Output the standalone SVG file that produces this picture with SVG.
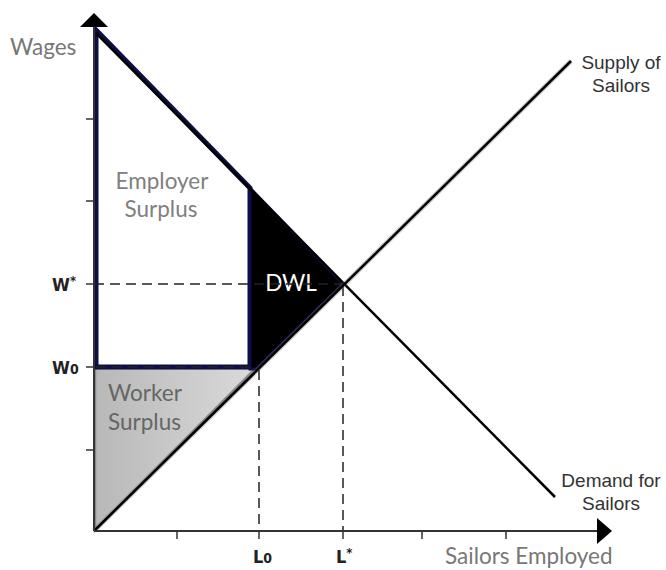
<svg xmlns="http://www.w3.org/2000/svg" width="666" height="570" viewBox="0 0 666 570">
<defs>
<linearGradient id="wg" x1="0" y1="0" x2="1" y2="0">
<stop offset="0" stop-color="#b8b8b8"/>
<stop offset="1" stop-color="#dadada"/>
</linearGradient>
<style>
.axis{stroke:#333;stroke-width:2;fill:none}
.tick{stroke:#333;stroke-width:1.5}
.dash{stroke:#222;stroke-width:1.5;stroke-dasharray:10,6;fill:none}
.curve{stroke:#000;stroke-width:2.5;fill:none}
.lato{font-family:Lato,"Open Sans","Liberation Sans",sans-serif;font-size:22.5px}
.ax{font-family:"Liberation Sans Narrow","DejaVu Sans Condensed","Liberation Sans",Arial,sans-serif;font-weight:bold;font-size:18px;fill:#222}
.lbl{font-family:"Liberation Sans",Arial,sans-serif;font-size:19px;fill:#333;text-anchor:middle}
</style>
</defs>
<rect width="666" height="570" fill="#fff"/>

<g id="worker-surplus">
<polygon points="95,368 256,368 95,530" fill="url(#wg)" stroke="#8a8a8a" stroke-width="2.5"/>
<text class="lato" x="108" y="401" fill="#666">Worker</text>
<text class="lato" x="108" y="430" fill="#666">Surplus</text>
</g>

<g id="employer-surplus">
<polygon points="96,30 250,188 250,367 96,367" fill="#fff" stroke="#0e0e48" stroke-width="5" stroke-linejoin="miter"/>
<text class="lato" x="162" y="189" fill="#808080" text-anchor="middle">Employer</text>
<text class="lato" x="161" y="217" fill="#808080" text-anchor="middle">Surplus</text>
</g>

<g id="dwl">
<polygon points="250,188 343,284 256,369 250,369" fill="#000" stroke="#0e0e48" stroke-width="3"/>
<text class="lato" x="291" y="291" fill="#fff" text-anchor="middle">DWL</text>
</g>

<g id="connectors">
<line class="dash" x1="94" y1="284" x2="343" y2="284"/>
<line class="dash" x1="96" y1="367" x2="256" y2="367"/>
<line class="dash" x1="259" y1="370" x2="259" y2="531"/>
<line class="dash" x1="343" y1="286" x2="343" y2="531"/>
<line x1="96" y1="33" x2="555" y2="497" class="curve"/>
<line x1="94" y1="531" x2="571" y2="61" stroke="#777" stroke-width="5" opacity="0.35"/>
<line x1="94" y1="531" x2="571" y2="61" class="curve"/>
</g>

<g id="axes">
<line class="axis" x1="94" y1="531" x2="94" y2="22"/>
<polygon points="94,13 108,27 80,27" fill="#000"/>
<line class="axis" x1="94" y1="531" x2="602" y2="531"/>
<polygon points="612,531 597,518 597,544" fill="#000"/>
<line class="tick" x1="86" y1="119" x2="94" y2="119"/>
<line class="tick" x1="86" y1="201" x2="94" y2="201"/>
<line class="tick" x1="86" y1="284" x2="94" y2="284"/>
<line class="tick" x1="86" y1="367" x2="94" y2="367"/>
<line class="tick" x1="86" y1="450" x2="94" y2="450"/>
<line class="tick" x1="177" y1="531" x2="177" y2="539"/>
<line class="tick" x1="259" y1="531" x2="259" y2="539"/>
<line class="tick" x1="343" y1="531" x2="343" y2="539"/>
<line class="tick" x1="422" y1="531" x2="422" y2="539"/>
<line class="tick" x1="506" y1="531" x2="506" y2="539"/>
</g>

<g id="labels">
<text class="lato" x="10" y="55" fill="#777">Wages</text>
<text class="lato" x="445" y="564" fill="#777" font-size="22">Sailors Employed</text>
<text class="ax" x="52" y="291">W<tspan font-size="13" dy="-6">*</tspan></text>
<text class="ax" x="52" y="374">W<tspan font-size="14">0</tspan></text>
<text class="ax" x="253" y="563">L<tspan font-size="14">0</tspan></text>
<text class="ax" x="336" y="563">L<tspan font-size="13" dy="-6">*</tspan></text>
<text class="lbl" x="621" y="69">Supply of</text>
<text class="lbl" x="621" y="92">Sailors</text>
<text class="lbl" x="611" y="487">Demand for</text>
<text class="lbl" x="611" y="510">Sailors</text>
</g>
</svg>
